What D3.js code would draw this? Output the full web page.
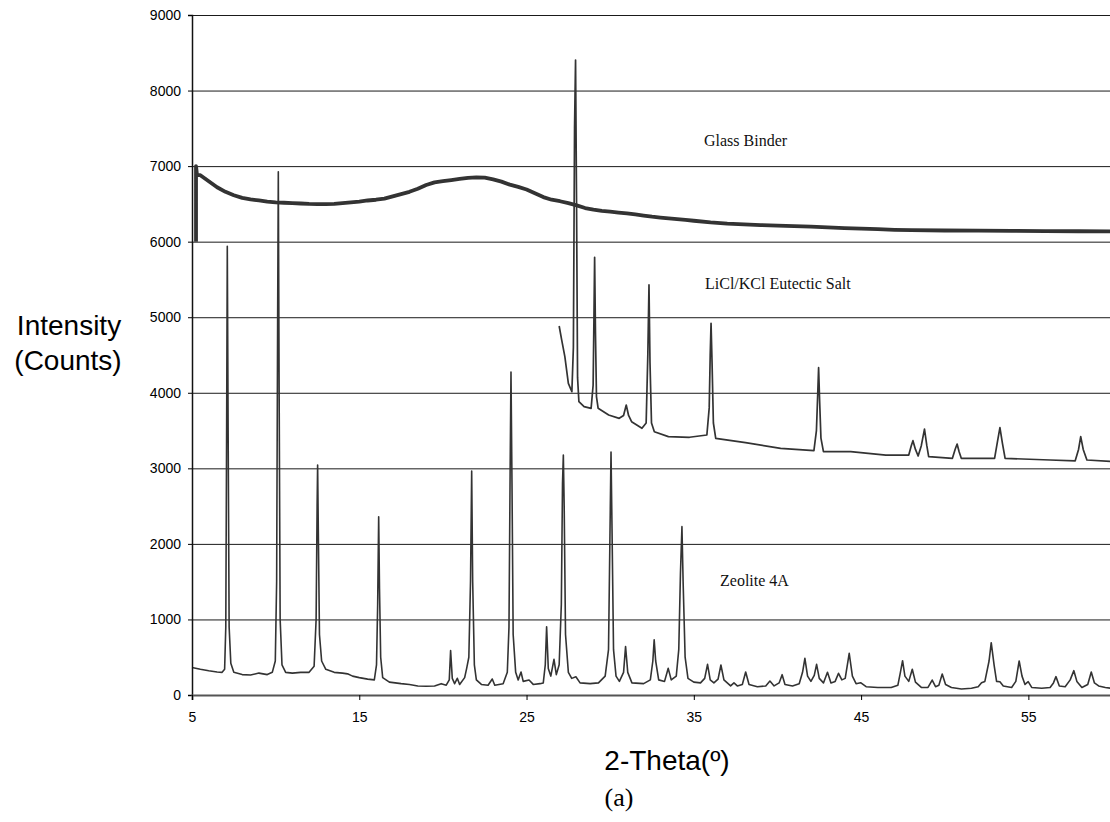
<!DOCTYPE html>
<html><head><meta charset="utf-8">
<script src="https://cdn.jsdelivr.net/npm/d3@7"></script>
<style>body{margin:0;background:#fff}svg{display:block}</style>
</head><body>
<svg id="chart" width="1110" height="822"></svg>
<script>
// Data: [2-theta, counts]
const zeolite4A = [
[5.0,365],[5.5,340],[6.0,320],[6.5,305],[6.8,300],[6.95,340],[7.02,900],[7.07,3500],[7.11,5940],[7.16,3500],[7.22,900],[7.32,420],[7.5,300],[8.0,270],[8.5,265],[9.0,290],[9.5,270],[9.8,300],[9.98,450],[10.06,1500],[10.12,5000],[10.16,6926],[10.21,4000],[10.27,1000],[10.38,400],[10.6,300],[11.0,290],[11.5,300],[12.0,300],[12.3,380],[12.42,1000],[12.48,2500],[12.51,3044],[12.55,2200],[12.62,800],[12.75,450],[13.0,340],[13.5,300],[14.0,290],[14.3,280],[14.6,250],[15.0,230],[15.5,210],[15.9,200],[16.03,400],[16.1,1200],[16.16,2360],[16.21,1400],[16.28,500],[16.4,230],[16.8,170],[17.5,150],[18.0,140],[18.5,120],[19.0,115],[19.5,120],[19.9,150],[20.2,130],[20.38,200],[20.46,587],[20.56,220],[20.7,150],[20.86,221],[21.0,140],[21.3,230],[21.42,353],[21.55,500],[21.65,1500],[21.72,2965],[21.78,1500],[21.88,400],[22.0,200],[22.3,140],[22.7,130],[22.95,212],[23.1,130],[23.6,150],[23.85,300],[23.95,900],[24.02,3000],[24.07,4275],[24.13,2800],[24.2,800],[24.35,300],[24.5,200],[24.67,304],[24.8,180],[25.15,198],[25.4,140],[25.8,150],[26.0,160],[26.12,400],[26.2,904],[26.3,350],[26.45,250],[26.64,472],[26.78,270],[26.95,400],[27.08,1200],[27.15,2800],[27.2,3176],[27.25,2500],[27.33,800],[27.5,300],[27.7,220],[27.95,242],[28.2,160],[28.8,150],[29.3,160],[29.7,250],[29.9,600],[29.98,2000],[30.05,3216],[30.11,2200],[30.2,600],[30.35,250],[30.55,180],[30.8,300],[30.92,642],[31.05,300],[31.3,160],[32.0,150],[32.4,200],[32.55,450],[32.63,730],[32.72,450],[32.9,200],[33.25,180],[33.47,353],[33.65,200],[33.95,250],[34.1,600],[34.2,1600],[34.29,2228],[34.36,1500],[34.48,500],[34.65,220],[35.0,170],[35.4,160],[35.65,220],[35.82,406],[35.98,200],[36.2,160],[36.45,210],[36.62,397],[36.8,200],[37.2,120],[37.4,160],[37.6,120],[37.9,140],[38.1,304],[38.3,140],[38.8,110],[39.3,120],[39.55,185],[39.8,120],[40.1,160],[40.28,269],[40.45,140],[40.9,120],[41.3,150],[41.5,300],[41.64,485],[41.8,250],[42.0,180],[42.2,260],[42.34,406],[42.5,220],[42.75,160],[42.99,300],[43.2,160],[43.45,180],[43.65,287],[43.85,200],[44.05,220],[44.29,551],[44.48,250],[44.7,150],[44.97,163],[45.3,110],[46.0,100],[46.8,100],[47.2,130],[47.35,300],[47.48,454],[47.62,250],[47.85,180],[48.06,340],[48.25,170],[48.6,100],[49.0,100],[49.25,198],[49.45,110],[49.65,130],[49.85,278],[50.05,140],[50.4,100],[51.0,80],[51.6,90],[52.0,110],[52.2,163],[52.4,180],[52.65,450],[52.78,692],[52.95,400],[53.1,180],[53.3,176],[53.5,120],[54.0,100],[54.25,180],[54.45,450],[54.62,250],[54.8,140],[54.99,176],[55.2,100],[55.8,90],[56.3,100],[56.5,160],[56.65,243],[56.85,120],[57.2,110],[57.5,200],[57.72,322],[57.9,180],[58.2,100],[58.55,140],[58.76,304],[58.95,160],[59.2,120],[59.6,100],[59.9,90]
];
const liclKclSalt = [
[26.95,4884],[27.1,4700],[27.29,4478],[27.5,4125],[27.71,4014],[27.8,4600],[27.87,7500],[27.93,8404],[27.99,6500],[28.05,4200],[28.13,3882],[28.44,3816],[28.86,3794],[28.98,4100],[29.03,5000],[29.07,5793],[29.12,4800],[29.18,3950],[29.28,3794],[29.91,3706],[30.54,3662],[30.8,3700],[30.96,3838],[31.1,3700],[31.28,3617],[31.9,3530],[32.15,3600],[32.25,4500],[32.32,5427],[32.38,4400],[32.47,3600],[32.64,3485],[33.48,3419],[34.74,3411],[35.78,3441],[35.92,3800],[35.98,4500],[36.03,4919],[36.09,4400],[36.17,3600],[36.31,3397],[38.09,3340],[40.19,3265],[42.18,3234],[42.33,3500],[42.41,4000],[42.46,4332],[42.52,3900],[42.6,3400],[42.75,3220],[44.38,3220],[46.48,3176],[47.85,3176],[48.0,3300],[48.1,3366],[48.25,3250],[48.41,3163],[48.6,3300],[48.79,3520],[48.93,3300],[49.04,3154],[50.46,3132],[50.62,3250],[50.74,3322],[50.86,3220],[50.99,3132],[52.98,3132],[53.15,3350],[53.3,3538],[53.45,3330],[53.61,3132],[56.3,3110],[57.8,3100],[58.0,3250],[58.13,3420],[58.28,3250],[58.5,3110],[60.0,3090]
];
const glassBinder = [
[5.24,6000],[5.24,7000],[5.3,6880],[5.5,6880],[6.0,6800],[6.5,6720],[7.0,6660],[7.5,6615],[8.0,6580],[8.5,6560],[9.0,6545],[9.5,6530],[10.0,6520],[10.5,6515],[11.0,6510],[11.5,6505],[12.0,6500],[12.5,6498],[13.0,6498],[13.5,6500],[14.0,6510],[14.5,6520],[15.0,6530],[15.5,6545],[16.0,6555],[16.5,6570],[17.0,6600],[17.5,6630],[18.0,6660],[18.5,6700],[19.0,6750],[19.5,6785],[20.0,6800],[20.5,6815],[21.0,6830],[21.5,6845],[22.0,6852],[22.5,6848],[23.0,6825],[23.5,6795],[24.0,6755],[24.5,6725],[25.0,6690],[25.5,6640],[26.0,6590],[26.5,6555],[27.0,6535],[27.5,6510],[28.0,6480],[28.5,6445],[29.0,6425],[29.5,6408],[30.0,6397],[30.5,6385],[31.0,6375],[31.5,6360],[32.0,6345],[32.5,6330],[33.0,6318],[33.5,6308],[34.0,6297],[34.5,6287],[35.0,6277],[36.0,6255],[37.0,6238],[38.0,6228],[39.0,6220],[40.0,6212],[41.0,6205],[42.0,6198],[43.0,6190],[44.0,6180],[45.0,6172],[46.0,6165],[47.0,6157],[48.0,6152],[50.0,6148],[52.0,6145],[54.0,6142],[56.0,6140],[58.0,6138],[60.0,6135]
];
const xTickValues = [5, 15, 25, 35, 45, 55];
const yTickValues = [0,1000,2000,3000,4000,5000,6000,7000,8000,9000];
const seriesLabels = [
  {name: "Glass Binder", x: 704, y: 146},
  {name: "LiCl/KCl Eutectic Salt", x: 705, y: 289},
  {name: "Zeolite 4A", x: 720, y: 586}
];

const svg = d3.select("#chart");
const L = 192, R = 1112, T = 15, B = 695;
const x = d3.scaleLinear().domain([5, 60]).range([L, R]);
const y = d3.scaleLinear().domain([0, 9000]).range([B, T]);

// gridlines
svg.append("g").selectAll("line").data(yTickValues.filter(d => d > 0)).join("line")
  .attr("x1", L).attr("x2", 1110)
  .attr("y1", d => y(d) + 0.5).attr("y2", d => y(d) + 0.5)
  .attr("stroke", "#1a1a1a").attr("stroke-width", 1);

const line = d3.line().x(d => x(d[0])).y(d => y(d[1]));
svg.append("path").datum(glassBinder).attr("d", line)
  .attr("fill", "none").attr("stroke", "#333").attr("stroke-width", 3.8).attr("stroke-linejoin", "round");
svg.append("path").datum(liclKclSalt).attr("d", line)
  .attr("fill", "none").attr("stroke", "#333").attr("stroke-width", 1.7).attr("stroke-linejoin", "round");
svg.append("path").datum(zeolite4A).attr("d", line)
  .attr("fill", "none").attr("stroke", "#333").attr("stroke-width", 1.6).attr("stroke-linejoin", "round");

// axes
const yAxis = svg.append("g").attr("transform", `translate(${L},0)`)
  .call(d3.axisLeft(y).tickValues(yTickValues).tickSize(4).tickPadding(7).tickFormat(d3.format("d")));
yAxis.select(".domain").attr("stroke", "#111").attr("stroke-width", 1.5);
yAxis.selectAll("text").attr("font-family", "Liberation Sans, Arial, sans-serif").attr("font-size", 14).attr("fill", "#000");

const xAxis = svg.append("g").attr("transform", `translate(0,${B})`)
  .call(d3.axisBottom(x).tickValues(xTickValues).tickSize(5).tickPadding(12).tickFormat(d3.format("d")));
xAxis.select(".domain").attr("stroke", "#555").attr("stroke-width", 2);
xAxis.selectAll("text").attr("font-family", "Liberation Sans, Arial, sans-serif").attr("font-size", 14).attr("fill", "#000");

// series labels
svg.append("g").selectAll("text").data(seriesLabels).join("text")
  .attr("x", d => d.x).attr("y", d => d.y)
  .attr("font-family", "Liberation Serif, Times New Roman, serif").attr("font-size", 16).attr("fill", "#111")
  .text(d => d.name);

// axis titles
const sans = "Liberation Sans, Arial, sans-serif";
svg.append("text").attr("x", 69).attr("y", 335).attr("text-anchor", "middle")
  .attr("font-family", sans).attr("font-size", 28).text("Intensity");
svg.append("text").attr("x", 68).attr("y", 370).attr("text-anchor", "middle")
  .attr("font-family", sans).attr("font-size", 28).text("(Counts)");
svg.append("text").attr("x", 667).attr("y", 770).attr("text-anchor", "middle")
  .attr("font-family", sans).attr("font-size", 28).text("2-Theta(º)");
svg.append("text").attr("x", 619).attr("y", 806).attr("text-anchor", "middle")
  .attr("font-family", "Liberation Serif, Times New Roman, serif").attr("font-size", 26).text("(a)");
</script>
</body></html>
